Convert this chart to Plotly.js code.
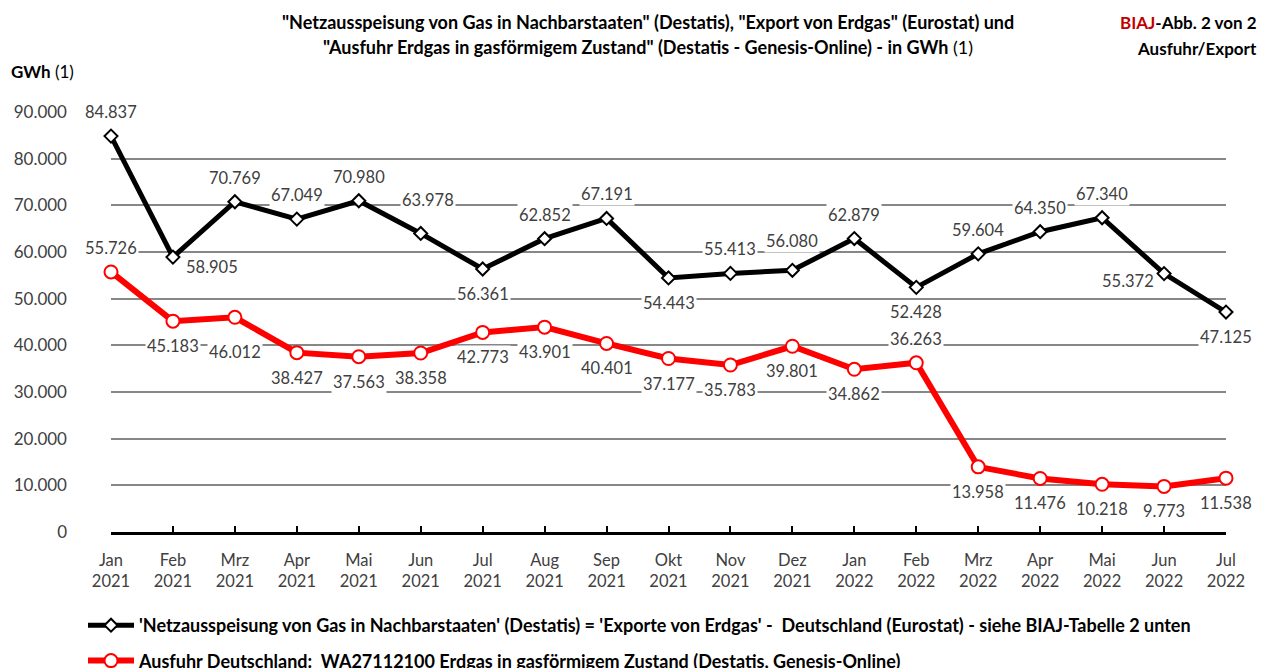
<!DOCTYPE html>
<html>
<head>
<meta charset="utf-8">
<script src="https://cdn.plot.ly/plotly-3.0.1.min.js"></script>
<style>html,body{margin:0;padding:0;background:#fff;}</style>
</head>
<body>
<div id="chart" style="width:1261px;height:668px;"></div>
<script>
// ---- data ----
var months = ['Jan','Feb','Mrz','Apr','Mai','Jun','Jul','Aug','Sep','Okt','Nov','Dez','Jan','Feb','Mrz','Apr','Mai','Jun','Jul'];
var years  = ['2021','2021','2021','2021','2021','2021','2021','2021','2021','2021','2021','2021','2022','2022','2022','2022','2022','2022','2022'];
var netzExport = [84837,58905,70769,67049,70980,63978,56361,62852,67191,54443,55413,56080,62879,52428,59604,64350,67340,55372,47125];
var ausfuhr    = [55726,45183,46012,38427,37563,38358,42773,43901,40401,37177,35783,39801,34862,36263,13958,11476,10218,9773,11538];
var netzName = "'Netzausspeisung von Gas in Nachbarstaaten' (Destatis) = 'Exporte von Erdgas' -  Deutschland (Eurostat) - siehe BIAJ-Tabelle 2 unten";
var ausfuhrName = "Ausfuhr Deutschland:  WA27112100 Erdgas in gasförmigem Zustand (Destatis, Genesis-Online)";

// label placement codes (style only)
var netzPos    = ['a','r','a','a','a','a2','b','a','a','b','a','a3','a','b','a','a','a','l','b'];
var ausfuhrPos = ['a','b','b2','b','b','b','b','b','b','b','b','b','b','a','b','b','b','b','b'];
var shifts = {a:[0,24], a2:[7,33], a3:[0,29], b:[0,-25], b2:[0,-35], r:[39,-10], l:[-36,-7]};

var cats = months.map(function(m,i){ return m + '<br>' + years[i]; });
var FONT = 'Lato, "Open Sans", sans-serif';

function fmt(v){
  return String(Math.round(v)).replace(/\B(?=(\d{3})+(?!\d))/g, '.');
}

var W = 1261, H = 668, ML = 111, MR = 35, MT = 112, MB = 136;
function px(x){ return (x - ML) / (W - ML - MR); }
function py(y){ return (H - MB - y) / (H - MT - MB); }

var traces = [
  {
    x: cats, y: netzExport, name: netzName, type: 'scatter', mode: 'lines+markers',
    line: {color: '#000000', width: 5},
    marker: {symbol: 'diamond', size: 10, color: '#ffffff', line: {color: '#000000', width: 2}},
    cliponaxis: false, legendgroup: 'g1', hoverinfo: 'skip'
  },
  {
    x: cats, y: ausfuhr, name: ausfuhrName, type: 'scatter', mode: 'lines+markers',
    line: {color: '#ff0000', width: 6},
    marker: {symbol: 'circle', size: 13, color: '#ffffff', line: {color: '#ff0000', width: 2}},
    cliponaxis: false, legendgroup: 'g2', hoverinfo: 'skip'
  }
];

var annotations = [];
function addLabels(vals, pos){
  vals.forEach(function(v, i){
    var s = shifts[pos[i]];
    annotations.push({
      x: cats[i], y: v, xref: 'x', yref: 'y', text: fmt(v), showarrow: false,
      xshift: s[0], yshift: s[1], bgcolor: '#ffffff', borderpad: 1,
      font: {family: FONT, size: 16.5, color: '#404040'}
    });
  });
}
addLabels(netzExport, netzPos);
addLabels(ausfuhr, ausfuhrPos);

var TF = 18;
annotations.push({
  xref: 'paper', yref: 'paper', x: px(648), y: py(22), showarrow: false,
  text: '<b>"Netzausspeisung von Gas in Nachbarstaaten" (Destatis), "Export von Erdgas" (Eurostat) und</b>',
  font: {family: FONT, size: TF, color: '#000000'}, xanchor: 'center', yanchor: 'middle'
});
annotations.push({
  xref: 'paper', yref: 'paper', x: px(648), y: py(47), showarrow: false,
  text: '<b>"Ausfuhr Erdgas in gasförmigem Zustand" (Destatis - Genesis-Online) - in GWh</b> (1)',
  font: {family: FONT, size: TF, color: '#000000'}, xanchor: 'center', yanchor: 'middle'
});
annotations.push({
  xref: 'paper', yref: 'paper', x: px(1259), y: py(22), showarrow: false,
  text: '<b><span style="color:#c00000">BIAJ</span>-Abb. 2 von 2</b>',
  font: {family: FONT, size: 17, color: '#000000'}, xanchor: 'right', yanchor: 'middle'
});
annotations.push({
  xref: 'paper', yref: 'paper', x: px(1259), y: py(48), showarrow: false,
  text: '<b>Ausfuhr/Export</b>',
  font: {family: FONT, size: 17, color: '#000000'}, xanchor: 'right', yanchor: 'middle'
});
annotations.push({
  xref: 'paper', yref: 'paper', x: px(9), y: py(72), showarrow: false,
  text: '<b>GWh</b> (1)',
  font: {family: FONT, size: 17, color: '#000000'}, xanchor: 'left', yanchor: 'middle'
});

var layout = {
  width: W, height: H,
  margin: {l: ML, r: MR, t: MT, b: MB, pad: 0, autoexpand: false},
  paper_bgcolor: '#ffffff', plot_bgcolor: '#ffffff',
  separators: ',.',
  showlegend: true,
  font: {family: FONT, color: '#404040'},
  xaxis: {
    type: 'category', range: [0, 18], showgrid: false, zeroline: false,
    showline: true, linecolor: '#000000', linewidth: 3,
    ticks: 'inside', ticklen: 6, tickwidth: 2, tickcolor: '#000000',
    tickfont: {family: FONT, size: 16.5, color: '#404040'},
    tickangle: 0, automargin: false,
    ticklabelstandoff: 11, fixedrange: true
  },
  yaxis: {
    range: [0, 90000], dtick: 10000, tick0: 0, tickformat: ',d',
    showgrid: true, gridcolor: '#878787', gridwidth: 2, zeroline: false,
    showline: false, ticks: '', automargin: false,
    tickfont: {family: FONT, size: 17, color: '#404040'},
    ticklabelstandoff: 43, fixedrange: true
  },
  legend: {
    orientation: 'v', traceorder: 'grouped', tracegroupgap: 9,
    xref: 'container', yref: 'container', x: 83 / W, y: 1 - 607 / H,
    xanchor: 'left', yanchor: 'top', itemwidth: 46,
    bgcolor: 'rgba(0,0,0,0)', borderwidth: 0,
    font: {family: FONT, size: 18, color: '#000000', weight: 'bold'}
  },
  annotations: annotations
};

Plotly.newPlot('chart', traces, layout, {staticPlot: true, displayModeBar: false});
</script>
</body>
</html>
